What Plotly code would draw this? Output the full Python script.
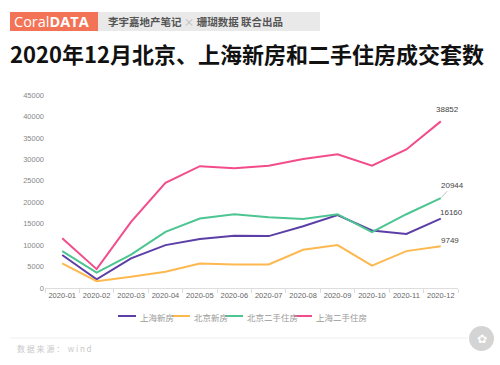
import plotly.graph_objects as go

months = ["2020-01", "2020-02", "2020-03", "2020-04", "2020-05", "2020-06",
          "2020-07", "2020-08", "2020-09", "2020-10", "2020-11", "2020-12"]
sh_new = [7700, 2000, 6900, 10000, 11400, 12200, 12100, 14400, 17000, 13400, 12600, 16160]
bj_new = [5750, 1600, 2600, 3800, 5700, 5500, 5500, 8900, 10000, 5200, 8600, 9749]
bj_second = [8600, 3600, 7800, 13100, 16200, 17200, 16500, 16100, 17200, 13000, 17200, 20944]
sh_second = [11600, 4400, 15400, 24500, 28400, 27900, 28500, 30100, 31200, 28500, 32300, 38852]
y_ticks = [0, 5000, 10000, 15000, 20000, 25000, 30000, 35000, 40000, 45000]

series = [
    ("上海新房", sh_new, "#5B3FA6"),
    ("北京新房", bj_new, "#FDB84F"),
    ("北京二手住房", bj_second, "#4CC592"),
    ("上海二手住房", sh_second, "#F24C8A"),
]

FONT = "Noto Sans CJK SC"
NUMFONT = "Liberation Sans"
fig = go.Figure()
for name, vals, col in series:
    fig.add_trace(go.Scatter(x=months, y=vals, name=name, mode="lines",
                             line=dict(color=col, width=2), showlegend=False))

fig.update_layout(
    width=500, height=365,
    margin=dict(l=45, r=42, t=95, b=77, autoexpand=False),
    paper_bgcolor="white", plot_bgcolor="white",
    font=dict(family=NUMFONT, size=8, color="#666"),
    showlegend=False,
    xaxis=dict(type="category", range=[-0.5, 11.5], showgrid=False, showline=True, linecolor="#ddd",
               ticks="outside", tickson="boundaries", ticklen=4, tickcolor="#ddd",
               tickangle=0, automargin=False,
               tickfont=dict(size=7.5, color="#666", family=NUMFONT), zeroline=False, fixedrange=True),
    yaxis=dict(range=[0, 45000], tickvals=y_ticks, ticktext=[str(v) for v in y_ticks],
               showgrid=False, zeroline=False, showline=False, automargin=False,
               tickfont=dict(size=7.5, color="#888", family=NUMFONT), ticks="", fixedrange=True),
)

def px_x(x):
    return (x - 45) / 413

def px_y(y):
    return (288 - y) / 193

# manual legend
leg_x = [118, 172, 225, 294]
for (name, vals, col), lx in zip(series, leg_x):
    fig.add_shape(type="line", xref="paper", yref="paper", x0=px_x(lx), x1=px_x(lx + 18),
                  y0=px_y(316), y1=px_y(316), line=dict(color=col, width=2))
    fig.add_annotation(xref="paper", yref="paper", x=px_x(lx + 20), y=px_y(316.5),
                       xanchor="left", yanchor="middle", text=name, showarrow=False,
                       font=dict(size=8.5, color="#999", family=FONT))

# end labels
last = months[-1]
lab_font = dict(size=8, color="#444", family=NUMFONT)
fig.add_annotation(x=last, y=sh_second[-1], text=str(sh_second[-1]), showarrow=False,
                   xshift=7, yshift=12, font=lab_font)
fig.add_annotation(x=last, y=bj_second[-1], text=str(bj_second[-1]), showarrow=True,
                   arrowhead=0, arrowwidth=0.6, arrowcolor="#999", ax=12, ay=-13, standoff=1,
                   font=lab_font)
fig.add_annotation(x=last, y=sh_new[-1], text=str(sh_new[-1]), showarrow=True,
                   arrowhead=0, arrowwidth=0.6, arrowcolor="#999", ax=11, ay=-6, standoff=1,
                   font=lab_font)
fig.add_annotation(x=last, y=bj_new[-1], text=str(bj_new[-1]), showarrow=True,
                   arrowhead=0, arrowwidth=0.6, arrowcolor="#999", ax=9, ay=-6, standoff=1,
                   font=lab_font)

# header badge
fig.add_shape(type="rect", xref="paper", yref="paper", x0=px_x(10), x1=px_x(98),
              y0=px_y(31), y1=px_y(12), fillcolor="#F37356", line_width=0, layer="below")
fig.add_shape(type="rect", xref="paper", yref="paper", x0=px_x(98), x1=px_x(320),
              y0=px_y(31), y1=px_y(12), fillcolor="#E9E9E9", line_width=0, layer="below")

fig.add_annotation(xref="paper", yref="paper", x=px_x(12), y=px_y(21.5), xanchor="left", yanchor="middle",
                   text="Coral<b>DATA</b>", showarrow=False,
                   font=dict(size=14.5, color="white", family="Open Sans"))
fig.add_annotation(xref="paper", yref="paper", x=px_x(106), y=px_y(21.5), xanchor="left", yanchor="middle",
                   text="<b>李宇嘉地产笔记</b> <span style='color:#bbb'>×</span> <b>珊瑚数据 联合出品</b>", showarrow=False,
                   font=dict(size=10.5, color="#555", family=FONT))
fig.add_annotation(xref="paper", yref="paper", x=px_x(8), y=px_y(53), xanchor="left", yanchor="middle",
                   text="<b>2020年12月北京、上海新房和二手住房成交套数</b>", showarrow=False,
                   font=dict(size=22, color="#111", family=FONT))

# footer
fig.add_shape(type="line", xref="paper", yref="paper", x0=px_x(10), x1=px_x(468),
              y0=px_y(338), y1=px_y(338), line=dict(color="#eee", width=1))
fig.add_annotation(xref="paper", yref="paper", x=px_x(15), y=px_y(348), xanchor="left", yanchor="middle",
                   text="数 据 来 源 ：  w i n d", showarrow=False,
                   font=dict(size=8, color="#c8c8c8", family=FONT))
fig.add_shape(type="circle", xref="paper", yref="paper", x0=px_x(469), x1=px_x(494),
              y0=px_y(351), y1=px_y(326), fillcolor="#d4d4d4", line_width=0)
fig.add_annotation(xref="paper", yref="paper", x=px_x(481.5), y=px_y(338.5), xanchor="center", yanchor="middle",
                   text="✿", showarrow=False, font=dict(size=12, color="white", family="DejaVu Sans"))

fig.write_html("out.html", config={"displayModeBar": False},
               post_script="document.body.style.margin='0';document.body.style.overflow='hidden';")
